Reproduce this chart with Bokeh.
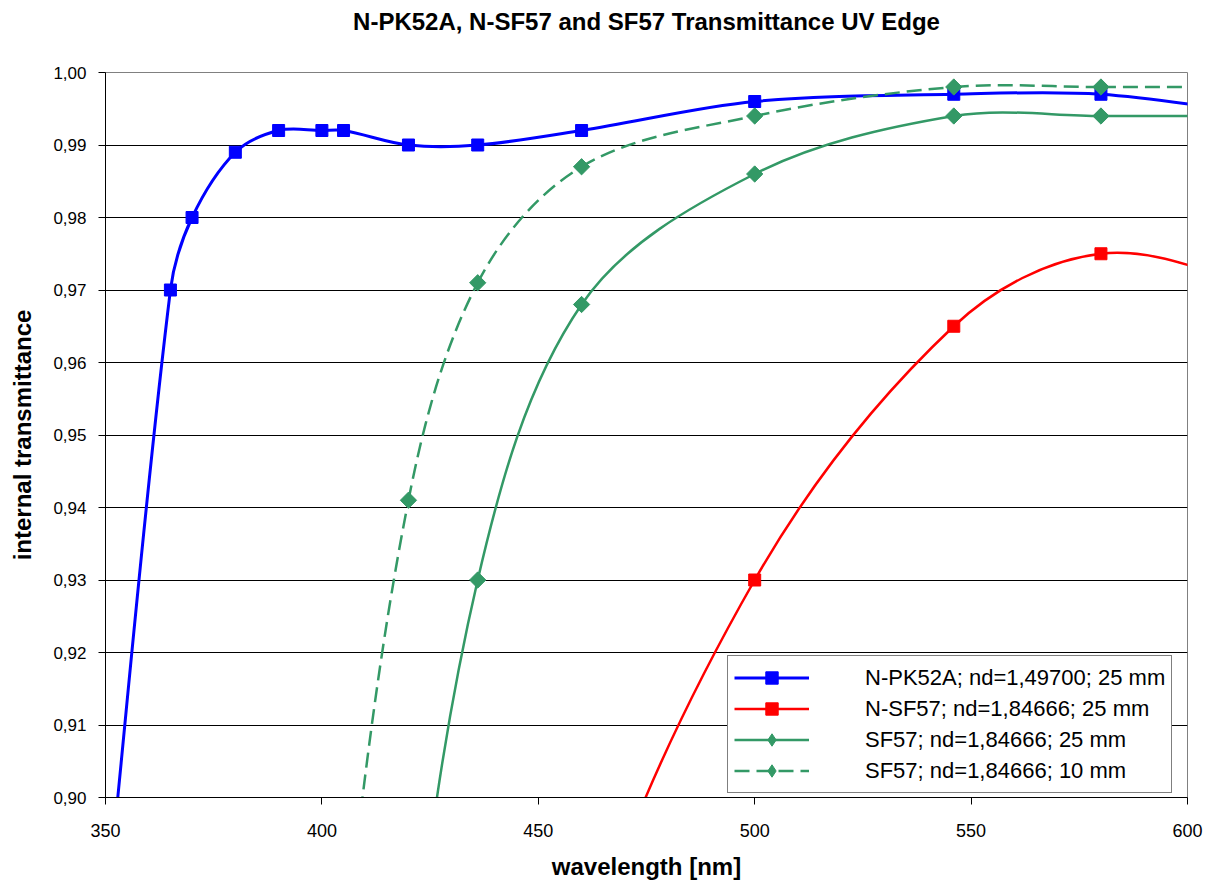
import numpy as np
from bokeh.plotting import figure
from bokeh.models import (Range1d, FixedTicker, CustomJSTickFormatter, Legend,
                          LegendItem, ColumnDataSource, Title)
from bokeh.embed import file_html
from bokeh.resources import INLINE

# ---------------- data ----------------
title_text = "N-PK52A, N-SF57 and SF57 Transmittance UV Edge"
x_label = "wavelength [nm]"
y_label = "internal transmittance"

x_ticks = [350, 400, 450, 500, 550, 600]
y_ticks = [0.90, 0.91, 0.92, 0.93, 0.94, 0.95, 0.96, 0.97, 0.98, 0.99, 1.00]

wl_npk52a = [350, 365, 370, 380, 390, 400, 405, 420, 436, 460, 500, 546, 580, 620]
tau_npk52a = [0.883, 0.970, 0.980, 0.989, 0.992, 0.992, 0.992, 0.990, 0.990, 0.992, 0.996, 0.997, 0.997, 0.994]

wl_nsf57 = [436, 460, 500, 546, 580, 620]
tau_nsf57 = [0.790, 0.875, 0.930, 0.965, 0.975, 0.970]

wl_sf57_25 = [405, 420, 436, 460, 500, 546, 580, 620]
tau_sf57_25 = [0.700, 0.865, 0.930, 0.968, 0.986, 0.994, 0.994, 0.994]

wl_sf57_10 = [400, 405, 420, 436, 460, 500, 546, 580, 620]
tau_sf57_10 = [0.830, 0.877, 0.941, 0.971, 0.987, 0.994, 0.998, 0.998, 0.998]

labels = ["N-PK52A; nd=1,49700; 25 mm",
          "N-SF57; nd=1,84666; 25 mm",
          "SF57; nd=1,84666; 25 mm",
          "SF57; nd=1,84666; 10 mm"]

# ---------------- figure ----------------
W, H = 1212, 883
ML, MR, MT, MB = 105, 25, 72, 86
x0, x1 = x_ticks[0], x_ticks[-1]
y0, y1 = y_ticks[0], y_ticks[-1]
frame_w = W - ML - MR
frame_h = H - MT - MB

p = figure(width=W, height=H, x_range=Range1d(x0, x1), y_range=Range1d(y0, y1),
           output_backend="svg", toolbar_location=None,
           min_border_left=ML, min_border_right=MR, min_border_top=MT, min_border_bottom=MB,
           background_fill_color="white", border_fill_color="white")

# title: an (invisible) spacer title next to the frame, then the real title above it
p.title.text = ""
p.add_layout(Title(text=" ", text_font="Liberation Sans", text_font_size="32px",
                   standoff=0), "above")
p.add_layout(Title(text=title_text, align="center", text_font="Liberation Sans",
                   text_font_size="24px", text_font_style="bold", text_color="black",
                   standoff=0), "above")

p.outline_line_color = "#808080"
p.outline_line_width = 1

for ax in (p.xaxis[0], p.yaxis[0]):
    ax.axis_line_color = "black"
    ax.axis_line_width = 1
    ax.major_tick_line_color = "black"
    ax.major_tick_out = 7
    ax.major_tick_in = 0
    ax.minor_tick_out = 0
    ax.minor_tick_in = 0
    ax.major_label_text_font = "Liberation Sans"
    ax.major_label_text_color = "black"
    ax.axis_label_text_font = "Liberation Sans"
    ax.axis_label_text_font_style = "bold"
    ax.axis_label_text_color = "black"

p.xaxis.ticker = FixedTicker(ticks=x_ticks)
p.xaxis.major_label_text_font_size = "18px"
p.xaxis.major_label_standoff = 19
p.xaxis.axis_label = x_label
p.xaxis.axis_label_text_font_size = "24px"
p.xaxis.axis_label_standoff = 13

p.yaxis.ticker = FixedTicker(ticks=y_ticks)
p.yaxis.formatter = CustomJSTickFormatter(code="return tick.toFixed(2).replace('.', ',');")
p.yaxis.major_label_text_font_size = "17px"
p.yaxis.major_label_standoff = 12
p.yaxis.axis_label = y_label
p.yaxis.axis_label_text_font_size = "24px"
p.yaxis.axis_label_standoff = 14

p.xgrid.visible = False
p.ygrid.ticker = FixedTicker(ticks=y_ticks[1:-1])
p.ygrid.grid_line_color = "black"
p.ygrid.grid_line_width = 1
p.ygrid.grid_line_alpha = 1.0

# ---------------- smoothed lines (Excel-like smoothing via Bezier) ----------------
sx = frame_w / (x1 - x0)
sy = frame_h / (y1 - y0)


def bezier_source(xs, ys, k=1.0 / 3.0):
    P = np.column_stack([np.asarray(xs, float) * sx, np.asarray(ys, float) * sy])
    n = len(P)
    T = np.zeros_like(P)
    for i in range(n):
        a = P[max(i - 1, 0)]
        b = P[min(i + 1, n - 1)]
        d = b - a
        T[i] = d / np.hypot(*d)
    seg = dict(x0=[], y0=[], x1=[], y1=[], cx0=[], cy0=[], cx1=[], cy1=[])
    for i in range(n - 1):
        L = np.hypot(*(P[i + 1] - P[i])) * k
        c0 = P[i] + T[i] * L
        c1 = P[i + 1] - T[i + 1] * L
        seg["x0"].append(P[i][0] / sx); seg["y0"].append(P[i][1] / sy)
        seg["x1"].append(P[i + 1][0] / sx); seg["y1"].append(P[i + 1][1] / sy)
        seg["cx0"].append(c0[0] / sx); seg["cy0"].append(c0[1] / sy)
        seg["cx1"].append(c1[0] / sx); seg["cy1"].append(c1[1] / sy)
    return ColumnDataSource(seg)


GREEN = "#339966"
series = [
    # xs, ys, colour, width, dash, marker, size, angle, legend marker
    (wl_npk52a, tau_npk52a, "#0000FF", 3, "solid", "square", 12, 0.0, "square"),
    (wl_nsf57, tau_nsf57, "#FF0000", 2.5, "solid", "square", 12, 0.0, "square"),
    (wl_sf57_25, tau_sf57_25, GREEN, 2.5, "solid", "square", 11.5, np.pi / 4, "diamond"),
    (wl_sf57_10, tau_sf57_10, GREEN, 2.5, "15 7", "square", 11.5, np.pi / 4, "diamond"),
]

nan1 = [np.nan]
items = []
for (xs, ys, col, lw, dash, mk, ms, ang, lmk), lab in zip(series, labels):
    src = bezier_source(xs, ys)
    p.bezier(x0="x0", y0="y0", x1="x1", y1="y1", cx0="cx0", cy0="cy0",
             cx1="cx1", cy1="cy1", source=src, line_color=col, line_width=lw,
             line_dash=dash)
    p.scatter(xs, ys, marker=mk, size=ms, angle=ang, fill_color=col,
              line_color=col, line_width=1)
    # legend proxies (not drawn in the plot: NaN position)
    leg_line = p.line(x=nan1, y=nan1, line_color=col, line_width=lw, line_dash=dash)
    leg_mk = p.scatter(x=nan1, y=nan1, marker=lmk, size=ms, fill_color=col,
                       line_color=col, line_width=1)
    items.append(LegendItem(label=lab, renderers=[leg_line, leg_mk]))

legend = Legend(items=items, location=(622, 4))
legend.label_text_font = "Liberation Sans"
legend.label_text_font_size = "22px"
legend.label_text_color = "black"
legend.glyph_width = 75
legend.glyph_height = 31
legend.label_height = 22
legend.spacing = 0
legend.padding = 6
legend.margin = 0
legend.label_standoff = 56
legend.border_line_color = "black"
legend.border_line_width = 1
legend.background_fill_color = "white"
legend.background_fill_alpha = 1.0
p.add_layout(legend)

open("out.html", "w").write(file_html(p, INLINE))
